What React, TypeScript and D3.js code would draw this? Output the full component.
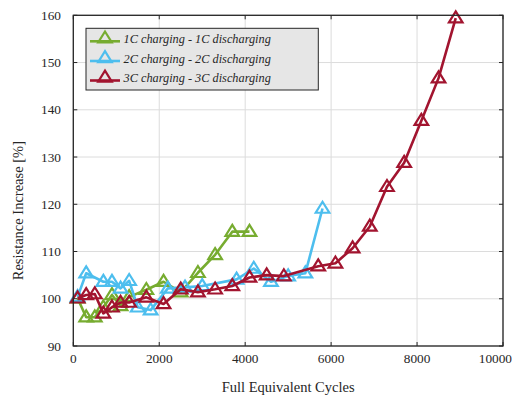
import React from "react";
import * as d3 from "d3";

// Full equivalent cycles vs. resistance increase for three C-rate protocols
const cycles1C = [100, 300, 500, 700, 900, 1100, 1300, 1700, 2100, 2500, 2900, 3300, 3700, 4100];
const resist1C = [100.1, 96.1, 96.1, 98.2, 100.8, 98.5, 100.4, 101.9, 103.6, 101.4, 105.5, 109.3, 114.2, 114.2];

const cycles2C = [100, 300, 700, 900, 1100, 1300, 1500, 1800, 2200, 2600, 3000, 3800, 4200, 4600, 5000, 5400, 5800];
const resist2C = [100.4, 105.4, 103.6, 103.6, 102.2, 103.8, 98.2, 97.6, 102.2, 102.4, 102.7, 104.1, 106.4, 103.6, 104.8, 105.4, 119.1];

const cycles3C = [100, 300, 500, 700, 900, 1100, 1300, 1700, 2100, 2500, 2900, 3300, 3700, 4100, 4500, 4900, 5700, 6100, 6500, 6900, 7300, 7700, 8100, 8500, 8900];
const resist3C = [100.1, 100.8, 101.0, 96.9, 98.2, 99.2, 99.2, 100.3, 98.9, 102.0, 101.4, 102.0, 102.7, 104.5, 105.0, 104.8, 106.9, 107.5, 110.7, 115.3, 123.7, 128.8, 137.7, 146.7, 159.4];

const seriesNames = ["1C charging - 1C discharging", "2C charging - 2C discharging", "3C charging - 3C discharging"];
const seriesColors = ["#77ac30", "#4dbeee", "#a2142f"];

const xTicks = [0, 2000, 4000, 6000, 8000, 10000];
const yTicks = [90, 100, 110, 120, 130, 140, 150, 160];

const W = 514;
const H = 398;
const left = 73.3;
const right = 503;
const top = 15.3;
const bottom = 346;

const FONT = "'Liberation Serif', 'Times New Roman', serif";

function Triangle({ cx, cy, color }: { cx: number; cy: number; color: string }) {
  const s = 6.8;
  const p = `M${cx},${cy - s} L${cx + s},${cy + s * 0.62} L${cx - s},${cy + s * 0.62} Z`;
  return <path d={p} fill="none" stroke={color} strokeWidth={2.2} strokeLinejoin="miter" />;
}

export default function App() {
  const x = d3.scaleLinear().domain([0, 10000]).range([left, right]);
  const y = d3.scaleLinear().domain([90, 160]).range([bottom, top]);

  const series = [
    { xs: cycles1C, ys: resist1C },
    { xs: cycles2C, ys: resist2C },
    { xs: cycles3C, ys: resist3C },
  ];

  const line = d3
    .line<[number, number]>()
    .x((d) => x(d[0]))
    .y((d) => y(d[1]));

  const legendX = 86;
  const legendY = 28.3;
  const legendRows = [38.3, 58, 77.5];

  return (
    <svg width={W} height={H} style={{ position: "absolute", left: 0, top: 0, background: "#fff" }}>
      <rect x={0} y={0} width={W} height={H} fill="#fff" />
      {/* grid */}
      {xTicks.map((t) => (
        <line key={"gx" + t} x1={x(t)} x2={x(t)} y1={top} y2={bottom} stroke="#dcdcdc" strokeWidth={1} />
      ))}
      {yTicks.map((t) => (
        <line key={"gy" + t} x1={left} x2={right} y1={y(t)} y2={y(t)} stroke="#dcdcdc" strokeWidth={1} />
      ))}
      {/* series */}
      {series.map((s, i) => {
        const pts = s.xs.map((v, k) => [v, s.ys[k]] as [number, number]);
        return (
          <g key={"s" + i}>
            <path d={line(pts) || ""} fill="none" stroke={seriesColors[i]} strokeWidth={2.6} strokeLinejoin="round" />
            {pts.map((p, k) => (
              <Triangle key={k} cx={x(p[0])} cy={y(p[1])} color={seriesColors[i]} />
            ))}
          </g>
        );
      })}
      {/* frame and ticks */}
      <rect x={left} y={top} width={right - left} height={bottom - top} fill="none" stroke="#262626" strokeWidth={1.3} />
      {xTicks.map((t, i) => {
        const last = i === xTicks.length - 1;
        return (
          <g key={"tx" + t}>
            <line x1={x(t)} x2={x(t)} y1={bottom} y2={bottom - 4} stroke="#262626" strokeWidth={1} />
            <line x1={x(t)} x2={x(t)} y1={top} y2={top + 4} stroke="#262626" strokeWidth={1} />
            <text
              x={last ? 512 : x(t)}
              y={363}
              textAnchor={last ? "end" : "middle"}
              fontFamily={FONT}
              fontSize={13.3}
              fill="#262626"
            >
              {t}
            </text>
          </g>
        );
      })}
      {yTicks.map((t) => (
        <g key={"ty" + t}>
          <line x1={left} x2={left + 4} y1={y(t)} y2={y(t)} stroke="#262626" strokeWidth={1} />
          <line x1={right} x2={right - 4} y1={y(t)} y2={y(t)} stroke="#262626" strokeWidth={1} />
          <text x={61} y={y(t) + 4.5} textAnchor="end" fontFamily={FONT} fontSize={13.3} fill="#262626">
            {t}
          </text>
        </g>
      ))}
      {/* axis titles */}
      <text x={(left + right) / 2} y={392} textAnchor="middle" fontFamily={FONT} fontSize={14.5} fill="#262626">
        Full Equivalent Cycles
      </text>
      <text
        transform={`translate(23,${(top + bottom) / 2 + 30}) rotate(-90)`}
        textAnchor="middle"
        fontFamily={FONT}
        fontSize={14.5}
        fill="#262626"
      >
        Resistance Increase [%]
      </text>
      {/* legend */}
      <rect x={legendX} y={legendY} width={318.3 - legendX} height={90 - legendY} fill="#e6e6e6" stroke="#262626" strokeWidth={1} />
      {seriesNames.map((name, i) => (
        <g key={"lg" + i}>
          <line x1={90} x2={120} y1={legendRows[i] + 3} y2={legendRows[i] + 3} stroke={seriesColors[i]} strokeWidth={2.6} />
          <Triangle cx={105} cy={legendRows[i]} color={seriesColors[i]} />
          <text x={123.5} y={legendRows[i] + 4.5} fontFamily={FONT} fontStyle="italic" fontSize={12.3} fill="#262626">
            {name}
          </text>
        </g>
      ))}
    </svg>
  );
}
